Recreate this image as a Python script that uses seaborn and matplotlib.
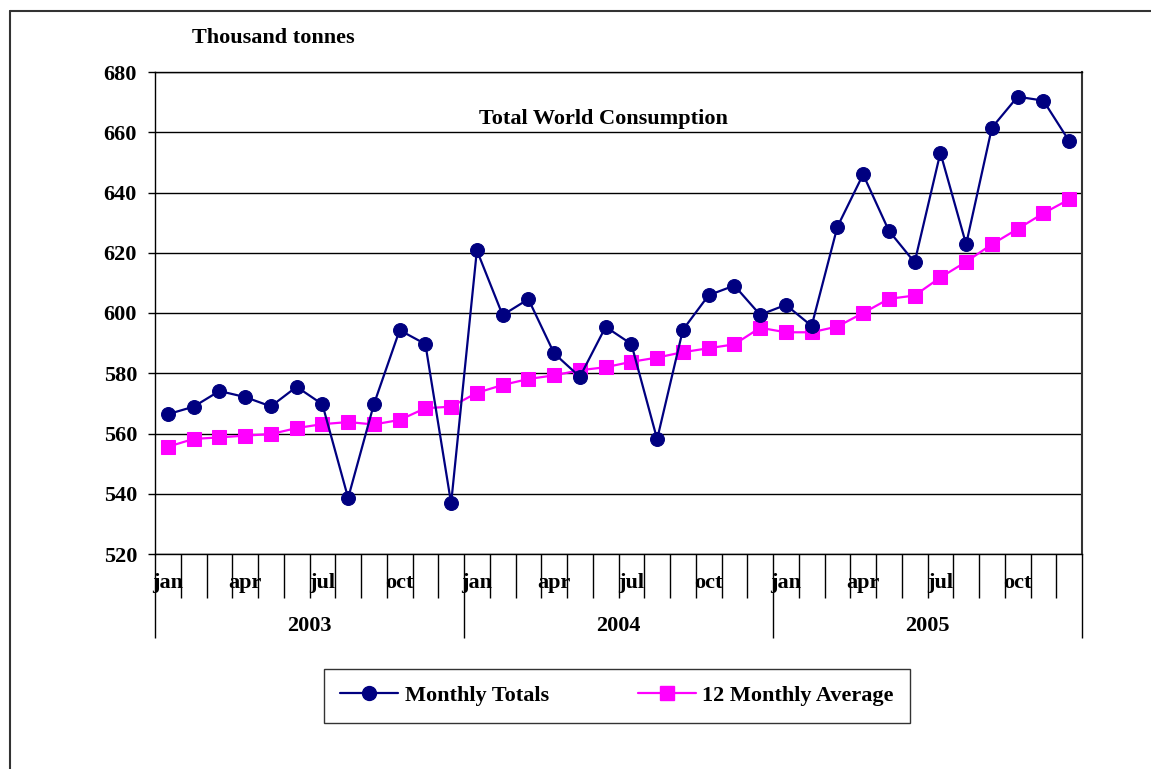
import numpy as np
import pandas as pd
import matplotlib
matplotlib.use("Agg")
import matplotlib.pyplot as plt
import seaborn as sns
from matplotlib.lines import Line2D

# ---- data ----
months = ["jan", "feb", "mar", "apr", "may", "jun",
          "jul", "aug", "sep", "oct", "nov", "dec"]
years = ["2003", "2004", "2005"]
month_labels_shown = {"jan", "apr", "jul", "oct"}

monthly_totals = [566.4, 568.9, 574.1, 572.1, 569.0, 575.5, 569.7, 538.6, 569.7, 594.3, 589.7, 536.8,
                  620.8, 599.3, 604.6, 586.6, 578.8, 595.4, 589.7, 558.1, 594.4, 605.9, 609.1, 599.4,
                  602.7, 595.7, 628.6, 646.0, 627.3, 616.8, 653.2, 622.8, 661.5, 671.8, 670.5, 657.1]
avg_12m = [555.6, 558.2, 558.7, 559.3, 559.8, 561.8, 563.1, 563.8, 563.0, 564.5, 568.4, 568.9,
           573.5, 576.1, 578.1, 579.3, 581.0, 582.0, 583.8, 585.2, 587.0, 588.3, 589.6, 595.1,
           593.6, 593.6, 595.5, 600.0, 604.7, 605.8, 611.8, 617.0, 622.8, 627.9, 633.1, 637.7]

y_ticks = [520, 540, 560, 580, 600, 620, 640, 660, 680]

n = len(monthly_totals)
df = pd.DataFrame({"idx": np.arange(n), "Monthly Totals": monthly_totals,
                   "12 Monthly Average": avg_12m})

sns.set_theme(style="white")
plt.rcParams["font.family"] = ["Liberation Serif", "DejaVu Serif"]
plt.rcParams["font.weight"] = "bold"
plt.rcParams["text.color"] = "black"
plt.rcParams["xtick.color"] = "black"
plt.rcParams["ytick.color"] = "black"
plt.rcParams["axes.labelcolor"] = "black"

FS = 16
W, H = 1151, 769
fig = plt.figure(figsize=(W / 100, H / 100), dpi=100)
fig.patch.set_facecolor("white")
ax = fig.add_axes([155 / W, 1 - 554 / H, (1082 - 155) / W, (554 - 72) / H])

NAVY = "#000080"
MAG = "#FF00FF"

sns.lineplot(data=df, x="idx", y="Monthly Totals", ax=ax, color=NAVY, lw=1.6,
             marker="o", markersize=10, markeredgecolor=NAVY, markerfacecolor=NAVY,
             label="Monthly Totals", zorder=4)
sns.lineplot(data=df, x="idx", y="12 Monthly Average", ax=ax, color=MAG, lw=1.6,
             marker="s", markersize=9.5, markeredgecolor=MAG, markerfacecolor=MAG,
             label="12 Monthly Average", zorder=3)

ax.set_xlim(-0.5, n - 0.5)
ax.set_ylim(520, 680)
ax.set_yticks(y_ticks)
ax.set_yticklabels([str(v) for v in y_ticks], fontsize=FS, fontweight="bold", color="black")
ax.tick_params(axis="y", direction="out", length=5, width=1, color="black", pad=8, left=True)
ax.yaxis.grid(True, color="black", lw=1)
ax.set_axisbelow(True)
ax.set_xlabel("")
ax.set_ylabel("")

# x ticks: year boundaries long (major), month boundaries short (minor)
year_bounds = [-0.5 + 12 * k for k in range(len(years) + 1)]
month_bounds = [i - 0.5 for i in range(n + 1)]
ax.set_xticks(year_bounds)
ax.set_xticklabels([])
ax.set_xticks(month_bounds, minor=True)
ax.tick_params(axis="x", which="major", direction="out", length=84 * 0.72, width=1,
               color="black", bottom=True)
ax.tick_params(axis="x", which="minor", direction="out", length=44 * 0.72, width=1,
               color="black", bottom=True)

for i in range(n):
    m = months[i % 12]
    if m in month_labels_shown:
        ax.text(i, -29 / 482, m, transform=ax.get_xaxis_transform(), ha="center",
                va="center", fontsize=FS, fontweight="bold", color="black")
for k, yr in enumerate(years):
    ax.text(12 * k + 5.5, -72 / 482, yr, transform=ax.get_xaxis_transform(), ha="center",
            va="center", fontsize=FS, fontweight="bold", color="black")

for s in ["left", "bottom", "top"]:
    ax.spines[s].set_color("black")
    ax.spines[s].set_linewidth(1)
ax.spines["right"].set_color("#333333")
ax.spines["right"].set_linewidth(1.5)

fig.text(603 / W, 1 - 119 / H, "Total World Consumption", ha="center", va="center",
         fontsize=FS, fontweight="bold", color="black")
fig.text(192 / W, 1 - 38 / H, "Thousand tonnes", ha="left", va="center",
         fontsize=FS, fontweight="bold", color="black")

# legend
ax.get_legend().remove()
handles = [Line2D([0], [0], color=NAVY, lw=1.6, marker="o", markersize=10,
                  markerfacecolor=NAVY, markeredgecolor=NAVY),
           Line2D([0], [0], color=MAG, lw=1.6, marker="s", markersize=9.5,
                  markerfacecolor=MAG, markeredgecolor=MAG)]
leg = fig.legend(handles, ["Monthly Totals", "12 Monthly Average"], ncol=2,
                 loc="center", bbox_to_anchor=(617 / W, 1 - 696 / H),
                 frameon=True, fancybox=False, shadow=False,
                 prop={"weight": "bold", "size": FS}, handlelength=2.6,
                 columnspacing=4.0, borderpad=0.75, handletextpad=0.3,
                 borderaxespad=0)
leg.get_frame().set_edgecolor("black")
leg.get_frame().set_linewidth(1)
for t in leg.get_texts():
    t.set_color("black")

# outer border (left and top edges)
fig.add_artist(Line2D([10 / W, 10 / W], [0, 1 - 11 / H], color="#333333", lw=1.5,
                      transform=fig.transFigure))
fig.add_artist(Line2D([10 / W, 1], [1 - 11 / H, 1 - 11 / H], color="#333333", lw=1.5,
                      transform=fig.transFigure))

fig.savefig("out.png", dpi=100)
